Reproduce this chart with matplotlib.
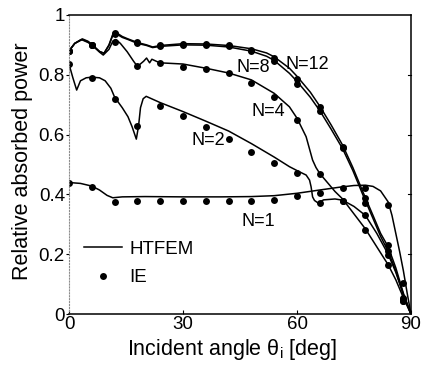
import matplotlib
matplotlib.use("Agg")
import matplotlib.pyplot as plt
from matplotlib.lines import Line2D

plt.rcParams['font.family'] = ['Liberation Sans', 'DejaVu Sans']

# IE (integral equation) reference points
ie_angle = [0, 6, 12, 18, 24, 30, 36, 42, 48, 54, 60, 66, 72, 78, 84, 88]
ie_n1 = [0.437, 0.426, 0.376, 0.379, 0.379, 0.379, 0.377, 0.379, 0.379, 0.381,
         0.396, 0.406, 0.420, 0.422, 0.365, 0.105]
ie_n2 = [0.835, 0.790, 0.718, 0.629, 0.696, 0.663, 0.626, 0.587, 0.541, 0.504,
         0.472, 0.372, 0.379, 0.331, 0.197, 0.050]
ie_n4 = [0.880, 0.900, 0.911, 0.829, 0.838, 0.827, 0.818, 0.805, 0.774, 0.727,
         0.649, 0.470, 0.379, 0.281, 0.164, 0.045]
ie_n8 = [0.880, 0.900, 0.936, 0.905, 0.897, 0.900, 0.900, 0.897, 0.878, 0.845,
         0.768, 0.680, 0.555, 0.372, 0.210, 0.045]
ie_n12 = [0.880, 0.900, 0.939, 0.908, 0.900, 0.903, 0.903, 0.900, 0.884, 0.855,
          0.785, 0.693, 0.560, 0.387, 0.231, 0.055]

# HTFEM curves
n1_x = [0, 3, 6, 8, 10, 11.5, 14, 20, 30, 40, 48, 54, 60, 66, 71, 75, 78, 80,
        82, 84, 85, 86, 87, 88, 89, 90]
n1_y = [0.440, 0.437, 0.428, 0.415, 0.397, 0.389, 0.392, 0.393, 0.392, 0.392,
        0.393, 0.396, 0.404, 0.415, 0.424, 0.430, 0.431, 0.427, 0.412, 0.375,
        0.330, 0.270, 0.210, 0.145, 0.070, 0.0]

n2_x = [0, 1, 2, 3, 4.5, 6, 8, 9.5, 11, 12, 14, 15.5, 16.6, 17.3, 17.7, 18.3,
        18.8, 19.5, 20.3, 24, 30, 36, 42, 48, 54, 58, 60.6, 62.4, 63.3, 63.7,
        64.1, 64.6, 65.5, 67, 70, 72, 75, 78, 81, 84, 86, 88, 90]
n2_y = [0.835, 0.790, 0.749, 0.780, 0.790, 0.792, 0.790, 0.780, 0.755, 0.725,
        0.690, 0.660, 0.626, 0.600, 0.585, 0.630, 0.690, 0.720, 0.728, 0.707,
        0.677, 0.645, 0.612, 0.570, 0.525, 0.493, 0.476, 0.465, 0.448, 0.426,
        0.392, 0.380, 0.372, 0.382, 0.385, 0.381, 0.360, 0.330, 0.270, 0.200,
        0.140, 0.065, 0.0]

n4_x = [0, 1.5, 3.2, 5, 6, 8, 9, 10.5, 11.5, 12.3, 13.5, 15.3, 17, 18, 19.6,
        20.4, 21.2, 21.8, 23, 24, 30, 36, 42, 48, 54, 58, 60, 62.4, 64.1, 65,
        66, 68, 70, 72, 75, 78, 81, 84, 86, 88, 90]
n4_y = [0.880, 0.905, 0.918, 0.908, 0.900, 0.876, 0.866, 0.885, 0.912, 0.918,
        0.905, 0.877, 0.845, 0.828, 0.845, 0.856, 0.840, 0.852, 0.845, 0.840,
        0.836, 0.822, 0.806, 0.783, 0.738, 0.693, 0.655, 0.593, 0.515, 0.490,
        0.470, 0.440, 0.410, 0.385, 0.335, 0.285, 0.225, 0.165, 0.115, 0.055,
        0.0]

n8_x = [0, 1.5, 3.5, 5, 6, 8, 9.2, 10.5, 11.5, 12.3, 14, 15.5, 18, 20.4, 22,
        24, 30, 36, 42, 48, 52, 54, 58, 60, 63.5, 66, 69, 72, 74.7, 77.3, 80,
        82, 84, 86, 88, 90]
n8_y = [0.880, 0.905, 0.918, 0.910, 0.900, 0.878, 0.872, 0.898, 0.932, 0.938,
        0.925, 0.918, 0.905, 0.898, 0.891, 0.895, 0.900, 0.899, 0.893, 0.879,
        0.862, 0.848, 0.805, 0.778, 0.725, 0.680, 0.618, 0.553, 0.480, 0.400,
        0.320, 0.260, 0.210, 0.145, 0.065, 0.0]

n12_x = n8_x
n12_y = [0.880, 0.905, 0.920, 0.912, 0.902, 0.878, 0.872, 0.900, 0.935, 0.942,
         0.928, 0.920, 0.908, 0.900, 0.893, 0.898, 0.904, 0.903, 0.898, 0.887,
         0.873, 0.860, 0.822, 0.795, 0.742, 0.695, 0.632, 0.565, 0.490, 0.410,
         0.330, 0.270, 0.225, 0.155, 0.070, 0.0]

curve_labels = ['N=1', 'N=2', 'N=4', 'N=8', 'N=12']
label_pos = [(49.9, 0.311), (36.7, 0.582), (52.5, 0.676), (48.6, 0.826), (62.7, 0.833)]

fig = plt.figure(figsize=(4.29, 3.74), dpi=100)
ax = fig.add_axes([0.161, 0.160, 0.797, 0.800])

for cx, cy in [(n1_x, n1_y), (n2_x, n2_y), (n4_x, n4_y), (n8_x, n8_y), (n12_x, n12_y)]:
    ax.plot(cx, cy, color='black', lw=1.1)

for iy in [ie_n1, ie_n2, ie_n4, ie_n8, ie_n12]:
    ax.plot(ie_angle, iy, 'o', color='black', ms=5, mew=0)

for txt, (lx, ly) in zip(curve_labels, label_pos):
    ax.text(lx, ly, txt, ha='center', va='center', fontsize=13)

ax.set_xlim(0, 90)
ax.set_ylim(0, 1)
ax.set_xticks([0, 30, 60, 90])
ax.set_xticklabels(['0', '30', '60', '90'])
ax.set_yticks([0, 0.2, 0.4, 0.6, 0.8, 1])
ax.set_yticklabels(['0', '0.2', '0.4', '0.6', '0.8', '1'])
ax.tick_params(labelsize=13.5, pad=1)
ax.tick_params(axis='y', which='both', direction='out', length=2, right=False)
ax.tick_params(axis='x', direction='in', length=3)
ax.spines['left'].set_linestyle(':')
ax.spines['left'].set_color('0.55')
for s in ['top', 'right', 'bottom']:
    ax.spines[s].set_linewidth(1.1)

# small inward ticks on the right axis
for yv in [0.2, 0.4, 0.6, 0.8]:
    ax.plot([89.2, 90], [yv, yv], color='black', lw=0.8, clip_on=False)

ax.set_xlabel(r'Incident angle $\mathregular{\theta_i}$ [deg]', fontsize=15.5)
ax.xaxis.set_label_coords(0.477, -0.075)
ax.set_ylabel('Relative absorbed power', fontsize=15.5)
ax.yaxis.set_label_coords(-0.105, 0.51)

handles = [Line2D([], [], color='black', lw=1.1),
           Line2D([], [], color='black', marker='o', ls='none', ms=5, mew=0)]
ax.legend(handles, ['HTFEM', 'IE'], loc='upper left', bbox_to_anchor=(0.044, 0.245),
          frameon=False, fontsize=13.5, borderpad=0, borderaxespad=0,
          handlelength=2.0, handletextpad=0.4, labelspacing=0.6)

plt.savefig("out.png", dpi=100)
